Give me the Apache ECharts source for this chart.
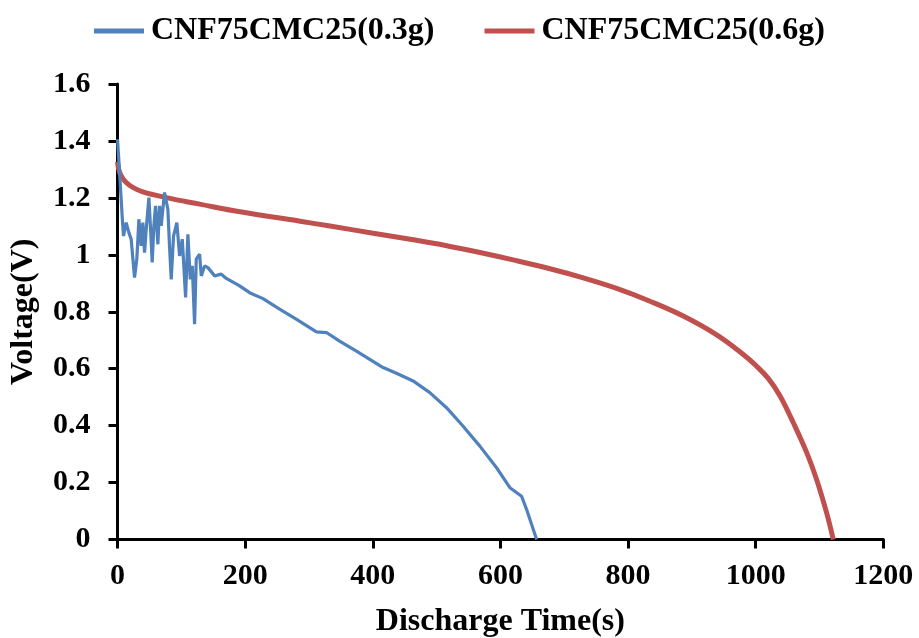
<!DOCTYPE html>
<html>
<head>
<meta charset="utf-8">
<script src="https://cdn.jsdelivr.net/npm/echarts@6/dist/echarts.min.js"></script>
<style>html,body{margin:0;padding:0;background:#fff;}#c{width:919px;height:638px;}</style>
</head>
<body>
<div id="c"></div>
<script>
const seriesNames = ['CNF75CMC25(0.3g)', 'CNF75CMC25(0.6g)'];
const xTicks = [0, 200, 400, 600, 800, 1000, 1200];
const yTicks = [0, 0.2, 0.4, 0.6, 0.8, 1, 1.2, 1.4, 1.6];

const blueTime = [0, 3, 7.3, 9.4, 13.6, 17.8, 21.4, 26.7, 30.3, 33.5, 37.1, 39.7, 42.4, 45, 49.2, 51.8, 54.4, 57, 59.6, 63.3, 65.9, 68.5, 73.7, 78.9, 81.6, 84.2, 87.8, 93, 97.3, 101.5, 106.7, 110.3, 114, 117.2, 120.8, 123.4, 128.6, 131.3, 136.5, 141.7, 152.2, 162.7, 170.5, 191.4, 207, 228, 254, 280, 311.7, 327.4, 348, 374.4, 395.3, 416.2, 437.2, 463.2, 489.4, 515.6, 541.6, 567.8, 594, 614.9, 633.2, 641.1, 656.8];
const blueVolt = [1.406, 1.30, 1.137, 1.066, 1.113, 1.078, 1.055, 0.92, 0.985, 1.125, 1.031, 1.113, 1.008, 1.09, 1.201, 1.09, 0.973, 1.102, 1.172, 1.037, 1.172, 1.102, 1.219, 1.16, 1.026, 0.914, 1.066, 1.113, 0.996, 1.055, 0.85, 1.072, 0.914, 0.961, 0.756, 0.985, 1.002, 0.926, 0.961, 0.955, 0.926, 0.932, 0.917, 0.891, 0.867, 0.846, 0.809, 0.774, 0.729, 0.727, 0.697, 0.662, 0.633, 0.604, 0.584, 0.557, 0.516, 0.463, 0.398, 0.328, 0.252, 0.182, 0.152, 0.105, 0.0];

const redTime = [0, 2, 5.8, 13.6, 24, 39.7, 76.4, 128.6, 192, 286, 333, 400.8, 463.5, 515.8, 568, 620, 677.7, 729.9, 782.2, 834.4, 886.5, 938.9, 980.6, 1000, 1020, 1038, 1059, 1080, 1095.6, 1111, 1121.6];
const redVolt = [1.327, 1.30, 1.277, 1.254, 1.237, 1.221, 1.201, 1.178, 1.151, 1.118, 1.101, 1.076, 1.053, 1.032, 1.008, 0.982, 0.951, 0.919, 0.882, 0.837, 0.785, 0.719, 0.650, 0.612, 0.565, 0.505, 0.41, 0.305, 0.21, 0.095, 0.0];

const zip = (a, b) => a.map((v, i) => [v, b[i]]);
const font = 'Liberation Serif';
const chart = echarts.init(document.getElementById('c'), null, {renderer: 'canvas'});
chart.setOption({
  animation: false,
  backgroundColor: '#fff',
  grid: {left: 117.5, right: 35.7, top: 84, bottom: 98.5, containLabel: false, outerBoundsMode: 'none'},
  legend: {
    top: 10, left: 'center', itemWidth: 50, itemHeight: 5, itemGap: 50, icon: 'rect',
    textStyle: {fontFamily: font, fontWeight: 'bold', fontSize: 32, color: '#000', padding: [0, 0, 0, 2]},
    data: seriesNames
  },
  xAxis: {
    type: 'value', min: xTicks[0], max: xTicks[xTicks.length - 1], interval: 200,
    name: 'Discharge Time(s)', nameLocation: 'middle', nameGap: 66,
    nameTextStyle: {fontFamily: font, fontWeight: 'bold', fontSize: 32, color: '#000'},
    axisLine: {show: true, onZero: false, lineStyle: {color: '#000', width: 3}},
    axisTick: {show: true, inside: false, length: 9, lineStyle: {color: '#000', width: 3}},
    axisLabel: {fontFamily: font, fontWeight: 'bold', fontSize: 30, color: '#000', margin: 22,
      formatter: v => String(v)},
    splitLine: {show: false}
  },
  yAxis: {
    type: 'value', min: yTicks[0], max: yTicks[yTicks.length - 1], interval: 0.2,
    name: 'Voltage(V)', nameLocation: 'middle', nameGap: 78,
    nameTextStyle: {fontFamily: font, fontWeight: 'bold', fontSize: 32, color: '#000'},
    axisLine: {show: true, onZero: false, lineStyle: {color: '#000', width: 3}},
    axisTick: {show: true, inside: false, length: 9, lineStyle: {color: '#000', width: 3}},
    axisLabel: {fontFamily: font, fontWeight: 'bold', fontSize: 30, color: '#000', margin: 27,
      formatter: v => String(Math.round(v * 10) / 10)},
    splitLine: {show: false}
  },
  series: [
    {
      name: seriesNames[0], type: 'line', symbol: 'none', data: zip(blueTime, blueVolt),
      lineStyle: {color: '#4F81BD', width: 3.2}, itemStyle: {color: '#4F81BD'}, z: 3
    },
    {
      name: seriesNames[1], type: 'line', symbol: 'none', smooth: 0.4, data: zip(redTime, redVolt),
      lineStyle: {color: '#C0504D', width: 5}, itemStyle: {color: '#C0504D'}, z: 2
    }
  ]
});
</script>
</body>
</html>
